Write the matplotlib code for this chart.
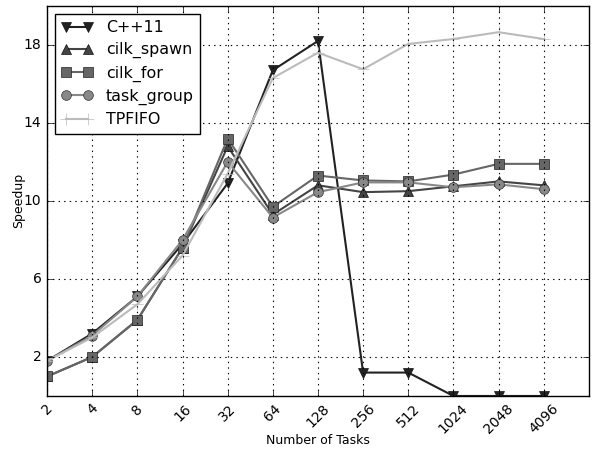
import numpy as np
import matplotlib
matplotlib.use("Agg")
import matplotlib.pyplot as plt

tasks = [2, 4, 8, 16, 32, 64, 128, 256, 512, 1024, 2048, 4096]

cpp11 = [1.8, 3.2, 5.1, 7.8, 10.9, 16.7, 18.2, 1.2, 1.2, 0.0, 0.0, 0.0]
cilk_spawn = [1.0, 2.0, 3.9, 7.6, 12.8, 9.3, 10.8, 10.45, 10.5, 10.75, 11.0, 10.8]
cilk_for = [1.0, 2.0, 3.9, 7.6, 13.2, 9.7, 11.3, 11.05, 11.0, 11.35, 11.9, 11.9]
task_group = [1.8, 3.1, 5.1, 8.0, 12.0, 9.15, 10.45, 10.95, 10.95, 10.7, 10.85, 10.6]
tpfifo = [1.8, 3.0, 4.7, 7.2, 11.4, 16.3, 17.6, 16.75, 18.05, 18.3, 18.65, 18.3]

plt.style.use("classic")
plt.rcParams["font.family"] = "DejaVu Sans"

fig = plt.figure(figsize=(5.96, 4.51), dpi=100)
ax = fig.add_axes([0.079, 0.122, 0.909, 0.865])

ax.plot(tasks, cpp11, color="#222222", marker="v", ms=7, mec="#111111", lw=1.5, label="C++11")
ax.plot(tasks, cilk_spawn, color="#444444", marker="^", ms=7, mec="#111111", lw=1.5, label="cilk_spawn")
ax.plot(tasks, cilk_for, color="#666666", marker="s", ms=7, mec="#222222", lw=1.5, label="cilk_for")
ax.plot(tasks, task_group, color="#888888", marker="o", ms=7, mec="#333333", lw=1.5, label="task_group")
ax.plot(tasks, tpfifo, color="#bbbbbb", marker="+", ms=9, mec="#bbbbbb", lw=1.5, label="TPFIFO")

ax.set_xscale("log", base=2)
ax.set_xlim(2, 8192)
ax.set_xticks(tasks)
ax.set_xticklabels([str(t) for t in tasks], rotation=45, fontsize=10)
ax.xaxis.set_minor_locator(matplotlib.ticker.NullLocator())
ax.set_ylim(0, 20)
ax.set_yticks([2, 6, 10, 14, 18])
ax.tick_params(axis="y", labelsize=10)
ax.grid(True, color="black", linestyle=":", lw=0.8)

ax.set_xlabel("Number of Tasks", fontsize=9, labelpad=-1.5)
ax.set_ylabel("Speedup", fontsize=9, labelpad=-1)

ax.legend(loc="upper left", fontsize=11.4, numpoints=2, handlelength=2.0,
          labelspacing=0.45, fancybox=False, borderaxespad=0.5)

fig.savefig("out.png", dpi=100)
